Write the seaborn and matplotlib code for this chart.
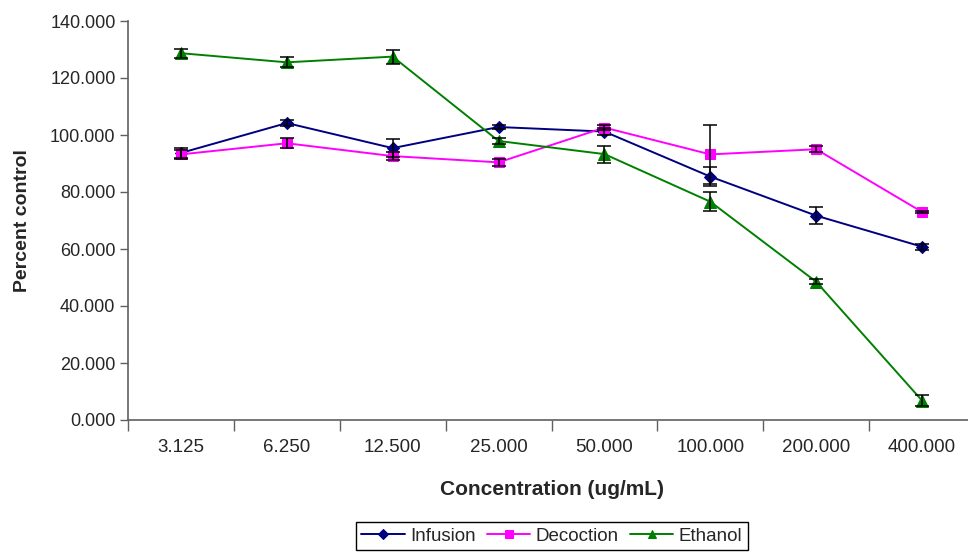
import numpy as np
import pandas as pd
import seaborn as sns
import matplotlib.pyplot as plt
from matplotlib.ticker import FormatStrFormatter

# values
concentrations = ['3.125', '6.250', '12.500', '25.000', '50.000', '100.000', '200.000', '400.000']
infusion = [93.7, 104.2, 95.4, 102.8, 101.2, 85.4, 71.7, 60.8]
infusion_err = [1.9, 1.0, 3.2, 0.8, 1.2, 3.3, 3.0, 1.0]
decoction = [93.2, 97.1, 92.6, 90.4, 102.6, 93.2, 95.0, 73.0]
decoction_err = [1.5, 1.8, 1.5, 1.3, 1.0, 10.4, 1.0, 0.5]
ethanol = [128.7, 125.5, 127.5, 97.9, 93.3, 76.6, 48.5, 6.8]
ethanol_err = [1.6, 1.7, 2.5, 1.0, 3.0, 3.3, 0.8, 1.9]

series = {'Infusion': (infusion, infusion_err),
          'Decoction': (decoction, decoction_err),
          'Ethanol': (ethanol, ethanol_err)}
colors = {'Infusion': '#000080', 'Decoction': '#FF00FF', 'Ethanol': '#008000'}
markers = {'Infusion': 'D', 'Decoction': 's', 'Ethanol': '^'}
msize = {'Infusion': 6.5, 'Decoction': 6.5, 'Ethanol': 8}

rows = []
for name, (vals, errs) in series.items():
    for i, (v, e) in enumerate(zip(vals, errs)):
        rows.append({'pos': i, 'value': v, 'err': e, 'series': name})
df = pd.DataFrame(rows)

sns.set_style('white')
plt.rcParams['font.family'] = ['Liberation Sans', 'DejaVu Sans']

fig = plt.figure(figsize=(9.68, 5.54), dpi=100)
ax = fig.add_axes([128 / 968, 134 / 554, 847 / 968, 399 / 554])

for name in series:
    sub = df[df['series'] == name]
    ax.errorbar(sub['pos'], sub['value'], yerr=sub['err'], fmt='none',
                ecolor='black', elinewidth=1.1, capsize=4.7, capthick=1.1, zorder=3)
    sns.lineplot(data=sub, x='pos', y='value', ax=ax, color=colors[name],
                 marker=markers[name], markersize=msize[name],
                 markeredgecolor=colors[name], linewidth=1.4, label=name, zorder=2)

ax.set_xlim(-0.5, 7.5)
ax.set_ylim(0, 140)
ax.set_yticks(np.arange(0, 141, 20))
ax.yaxis.set_major_formatter(FormatStrFormatter('%.3f'))
ax.set_xticks(range(len(concentrations)))
ax.set_xticklabels(concentrations)
ax.set_xticks(np.arange(-0.5, 8, 1), minor=True)
ax.tick_params(axis='x', which='major', length=0, pad=14, labelsize=13.5)
ax.tick_params(axis='x', which='minor', length=8, width=1, color='#606060', direction='out')
ax.tick_params(axis='y', length=6, width=1, color='#606060', direction='out', labelsize=13, pad=3)
ax.tick_params(axis='both', which='both', bottom=True, left=True)

for s in ['top', 'right']:
    ax.spines[s].set_visible(False)
for s in ['left', 'bottom']:
    ax.spines[s].set_color('#606060')
    ax.spines[s].set_linewidth(1.2)

ax.set_xlabel('Concentration (ug/mL)', fontsize=15, fontweight='bold', labelpad=17)
ax.set_ylabel('Percent control', fontsize=14, fontweight='bold', labelpad=14)

ax.legend(loc='upper center', bbox_to_anchor=(552 / 968, 32 / 554),
          bbox_transform=fig.transFigure, ncol=3, frameon=True, fancybox=False,
          edgecolor='black', fontsize=13.5, handlelength=2.3, handletextpad=0.3,
          columnspacing=0.6, borderpad=0.3, borderaxespad=0, framealpha=1,
          markerscale=0.8)

fig.savefig('out.png', dpi=100)
